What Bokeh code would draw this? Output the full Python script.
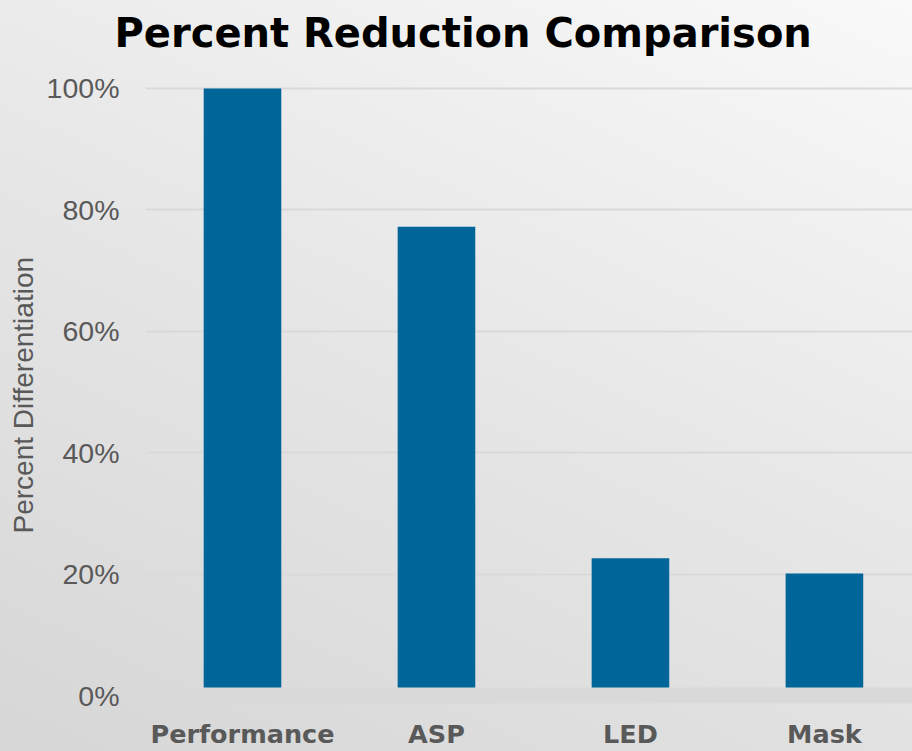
from bokeh.plotting import figure
from bokeh.models import ColumnDataSource, FixedTicker, Range1d, Title
from bokeh.embed import file_html
from bokeh.resources import INLINE

# --- data -------------------------------------------------------------
categories = ["Performance", "ASP", "LED", "Mask"]
reduction_pct = [100.0, 77.2, 22.6, 20.1]
y_ticks = [0, 20, 40, 60, 80, 100]
y_tick_labels = ["0%", "20%", "40%", "60%", "80%", "100%"]

title_text = "Percent Reduction Comparison"
y_axis_title = "Percent Differentiation"

# --- styling ----------------------------------------------------------
BAR_COLOR = "#006699"
GRID_COLOR = "#d9d9d9"
FLOOR_COLOR = "#d9d9d9"
TEXT_GREY = "#595959"

# category slots are one unit wide; bars sit at the slot centres
x_pos = [i + 0.5 for i in range(len(categories))]
source = ColumnDataSource(dict(x=x_pos, top=reduction_pct, cat=categories))

p = figure(
    width=912,
    height=751,
    output_backend="svg",
    toolbar_location=None,
    x_range=Range1d(0, 3.954),
    y_range=Range1d(0, 104.6),
    min_border_left=145,
    min_border_right=0,
    min_border_top=60,
    min_border_bottom=54,
    styles={"background-image": "linear-gradient(25deg, #d6d6d6 0%, #e6e6e6 50%, #f9f9f9 100%)"},
)
p.border_fill_alpha = 0
p.background_fill_alpha = 0
p.outline_line_color = None

p.vbar(x="x", top="top", bottom=0, width=0.4, source=source,
       fill_color=BAR_COLOR, line_color=None)

# horizontal gridlines (the zero line is the chart floor)
p.xgrid.visible = False
p.ygrid.ticker = FixedTicker(ticks=y_ticks[1:])
p.ygrid.grid_line_color = GRID_COLOR
p.ygrid.grid_line_width = 2

# y axis
ya = p.yaxis[0]
ya.ticker = FixedTicker(ticks=y_ticks)
ya.major_label_overrides = {t: lab for t, lab in zip(y_ticks, y_tick_labels)}
ya.axis_line_color = None
ya.major_tick_line_color = None
ya.minor_tick_line_color = None
ya.major_tick_out = 0
ya.major_label_standoff = 26
ya.major_label_text_font = "Liberation Sans"
ya.major_label_text_font_size = "28.5px"
ya.major_label_text_color = TEXT_GREY

# x axis: its thick line doubles as the grey floor under the bars
xa = p.xaxis[0]
xa.ticker = FixedTicker(ticks=x_pos)
xa.major_label_overrides = {x: c for x, c in zip(x_pos, categories)}
xa.axis_line_color = FLOOR_COLOR
xa.axis_line_width = 16
xa.major_tick_line_color = None
xa.minor_tick_line_color = None
xa.major_tick_out = 0
xa.major_label_standoff = 23
xa.major_label_text_font = "DejaVu Sans"
xa.major_label_text_font_style = "bold"
xa.major_label_text_font_size = "25.5px"
xa.major_label_text_color = TEXT_GREY

# chart title, shifted left of the plot frame
p.add_layout(Title(
    text=title_text, align="left", offset=-31,
    text_font="DejaVu Sans", text_font_style="bold",
    text_font_size="40px", text_color="#000000",
), "above")

# rotated axis title, starting near the bottom of the value range
p.add_layout(Title(
    text=y_axis_title, align="left", offset=162,
    text_font="Liberation Sans", text_font_style="normal",
    text_font_size="28px", text_color=TEXT_GREY,
), "left")

open("out.html", "w").write(file_html(p, INLINE))
